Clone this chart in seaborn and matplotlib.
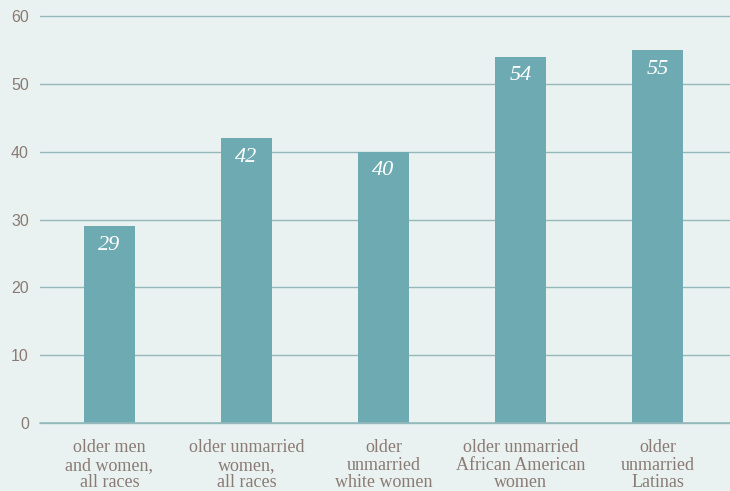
import matplotlib
matplotlib.use("Agg")
import matplotlib.pyplot as plt
import seaborn as sns
import pandas as pd

# data
categories = [
    "older men\nand women,\nall races",
    "older unmarried\nwomen,\nall races",
    "older\nunmarried\nwhite women",
    "older unmarried\nAfrican American\nwomen",
    "older\nunmarried\nLatinas",
]
values = [29, 42, 40, 54, 55]
y_ticks = [0, 10, 20, 30, 40, 50, 60]

bg = "#e9f2f1"
bar_color = "#6eaab2"
grid_color = "#95b9bb"
text_color = "#8a7b74"

sns.set_theme(style="white")
plt.rcParams["font.family"] = ["Liberation Serif", "DejaVu Serif"]

df = pd.DataFrame({"group": categories, "pct": values})

fig = plt.figure(figsize=(7.3, 4.91), dpi=100, facecolor=bg)
ax = fig.add_axes([0.0548, 0.1385, 0.9452, 0.8289])
ax.set_facecolor(bg)

sns.barplot(data=df, x="group", y="pct", color=bar_color, width=0.372,
            saturation=1, linewidth=0, ax=ax, zorder=3)

ax.set_ylim(0, 60)
ax.set_xlim(-0.507, 4.529)
ax.set_yticks(y_ticks)
ax.set_yticklabels([str(t) for t in y_ticks], family=["Liberation Sans", "DejaVu Sans"],
                   fontsize=11.5, color=text_color)
ax.yaxis.grid(True, color=grid_color, linewidth=1)
for gl in ax.get_ygridlines():
    gl.set_clip_on(False)
ax.axhline(0, color=grid_color, linewidth=1.2, zorder=4, clip_on=False)
ax.set_axisbelow(True)
for s in ax.spines.values():
    s.set_visible(False)
ax.tick_params(axis="y", length=0, pad=8)
ax.tick_params(axis="x", length=0, pad=11.5)
for lbl in ax.get_xticklabels():
    lbl.set_fontsize(13)
    lbl.set_color(text_color)
    lbl.set_linespacing(1.05)
ax.set_xlabel("")
ax.set_ylabel("")

for i, v in enumerate(values):
    ax.annotate(str(v), (i, v), xytext=(0, -7), textcoords="offset points",
                ha="center", va="top", color="white", fontsize=16, style="italic",
                zorder=5)

fig.savefig("out.png", dpi=100, facecolor=bg)
